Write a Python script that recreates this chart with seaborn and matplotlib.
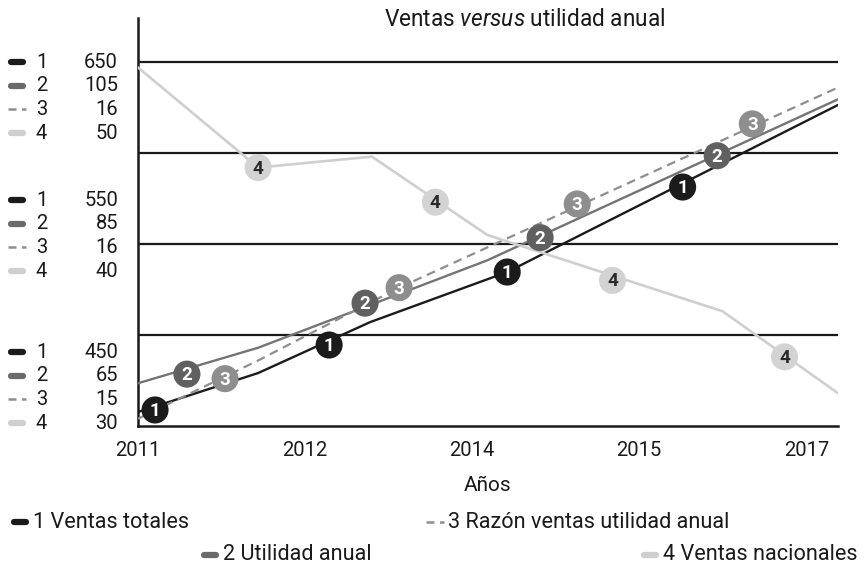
import matplotlib
matplotlib.use("Agg")
import matplotlib.pyplot as plt
from matplotlib.lines import Line2D
import pandas as pd
import seaborn as sns

# categories / tick labels
years = ["2011", "2012", "2014", "2015", "2017"]
names = ["Ventas totales", "Utilidad anual", "Razón ventas utilidad anual", "Ventas nacionales"]

# each series has its own scale: value at the bottom axis and at the top gridline
scale_low = [450, 65, 15, 30]
scale_high = [650, 105, 16, 50]
# left-side scale labels (top, middle, bottom groups)
group_labels = [["650", "105", "16", "50"],
                ["550", "85", "16", "40"],
                ["450", "65", "15", "30"]]

# line vertices (x in year slots, y in each series' own units)
ventas_x = [0, 0.719, 1.39, 2.21, 4.19]
ventas_y = [457.7, 479.1, 507.1, 534.6, 626.4]
utilidad_x = [0, 0.719, 2.09, 4.19]
utilidad_y = [69.7, 73.6, 83.2, 100.9]
razon_x = [0, 0.719, 1.563, 4.19]
razon_y = [15.02, 15.18, 15.38, 15.93]
nacional_x = [0, 0.719, 1.40, 2.09, 3.50, 4.19]
nacional_y = [49.7, 44.2, 44.8, 40.5, 36.3, 31.8]

# numbered badges along each line
ventas_mx = [0.102, 1.144, 2.21, 3.26]
ventas_my = [458.8, 494.5, 534.6, 581.3]
utilidad_mx = [0.293, 1.359, 2.407, 3.467]
utilidad_my = [70.7, 78.5, 85.7, 94.7]
razon_mx = [0.521, 1.563, 2.629, 3.677]
razon_my = [15.13, 15.38, 15.61, 15.83]
nacional_mx = [0.719, 1.78, 2.84, 3.87]
nacional_my = [44.2, 42.3, 38.0, 33.8]

line_colors = ["#1b1b1b", "#747474", "#8e8e8e", "#cfcfcf"]
badge_colors = ["#1b1b1b", "#606060", "#8e8e8e", "#d3d3d3"]
text_colors = ["white", "white", "white", "#2a2a2a"]
widths = [1.7, 1.7, 1.6, 1.9]

lines_x = [ventas_x, utilidad_x, razon_x, nacional_x]
lines_y = [ventas_y, utilidad_y, razon_y, nacional_y]
marks_x = [ventas_mx, utilidad_mx, razon_mx, nacional_mx]
marks_y = [ventas_my, utilidad_my, razon_my, nacional_my]


def norm(vals, i):
    return [(v - scale_low[i]) / (scale_high[i] - scale_low[i]) for v in vals]


rows, badges = [], []
for i in range(4):
    for x, y in zip(lines_x[i], norm(lines_y[i], i)):
        rows.append({"serie": i, "x": x, "y": y})
    for x, y in zip(marks_x[i], norm(marks_y[i], i)):
        badges.append({"serie": i, "x": x, "y": y})
lines_df = pd.DataFrame(rows)
badges_df = pd.DataFrame(badges)

sns.set_theme(style="white")
plt.rcParams["font.family"] = ["Roboto", "DejaVu Sans"]
plt.rcParams["mathtext.fontset"] = "custom"
plt.rcParams["mathtext.rm"] = "Roboto"
plt.rcParams["mathtext.it"] = "Roboto:italic"

W, H = 868, 568
fig = plt.figure(figsize=(W / 100, H / 100), dpi=100)
ax = fig.add_axes([138 / W, 1 - 426 / H, 700 / W, (426 - 18) / H])

ink = "#1a1a1a"
for g in [0.25, 0.5, 0.75, 1.0]:
    ax.axhline(g, color=ink, lw=1.6, zorder=1)

for i in range(4):
    d = lines_df[lines_df.serie == i]
    sns.lineplot(data=d, x="x", y="y", ax=ax, color=line_colors[i], lw=widths[i],
                 sort=False, estimator=None, zorder=3)
    if i == 2:
        ax.lines[-1].set_dashes((4, 2.6))

for i in range(4):
    d = badges_df[badges_df.serie == i]
    sns.scatterplot(data=d, x="x", y="y", ax=ax, s=380, color=badge_colors[i],
                    edgecolor="none", zorder=5, legend=False)
    for x, y in zip(d.x, d.y):
        ax.text(x, y - 0.003, str(i + 1), ha="center", va="center", fontsize=13.5,
                fontweight="bold", color=text_colors[i], zorder=6)

ax.set_xlim(0, 4.19)
ax.set_ylim(0, (426 - 18) / 364)
ax.set_xticks(range(len(years)))
ax.set_xticklabels(years, fontsize=14.5, color=ink)
ax.set_yticks([])
ax.tick_params(axis="x", length=0, pad=11)
ax.set_xlabel("Años", fontsize=15, color=ink, labelpad=11)
ax.set_ylabel("")
for side in ["top", "right"]:
    ax.spines[side].set_visible(False)
for side in ["left", "bottom"]:
    ax.spines[side].set_color(ink)
    ax.spines[side].set_linewidth(1.8)

fig.text(525 / W, 1 - 20 / H, r"Ventas $\mathit{versus}$ utilidad anual",
         ha="center", va="center", fontsize=16.3, color=ink)


def fx(px):
    return px / W


def fy(py):
    return 1 - py / H


def icon(x0, x1, y, i):
    if i == 2:
        ln = Line2D([fx(x0), fx(x1)], [fy(y), fy(y)], transform=fig.transFigure,
                    color=line_colors[i], lw=1.8, dashes=(3.2, 2.2))
    else:
        ln = Line2D([fx(x0 + 3), fx(x1 - 3)], [fy(y), fy(y)], transform=fig.transFigure,
                    color=line_colors[i] if i != 1 else "#6a6a6a", lw=4.5,
                    solid_capstyle="round")
    fig.add_artist(ln)


# left scale labels
group_tops = [62, 200, 352]
for g, top in enumerate(group_tops):
    for r in range(4):
        y = top + r * 23.7
        icon(8, 26, y, r)
        fig.text(fx(36), fy(y), str(r + 1), ha="left", va="center", fontsize=14.5, color=ink)
        fig.text(fx(118), fy(y), group_labels[g][r], ha="right", va="center",
                 fontsize=14.5, color=ink)

# bottom legend
legend_pos = [(11, 29, 522), (201, 219, 555), (426, 444, 522), (641, 659, 555)]
for i, (x0, x1, y) in enumerate(legend_pos):
    icon(x0, x1, y, i)
    fig.text(fx(x1 + 4), fy(y), f"{i + 1} {names[i]}", ha="left", va="center",
             fontsize=15.6, color=ink)

fig.savefig("out.png", dpi=100)
